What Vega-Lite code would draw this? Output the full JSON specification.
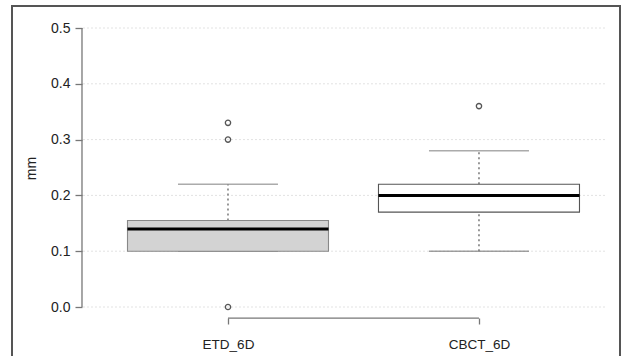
{
  "$schema": "https://vega.github.io/schema/vega-lite/v6.json",
  "width": 608,
  "height": 354,
  "autosize": "none",
  "padding": {"left": 12, "top": 6, "right": 5, "bottom": 0},
  "background": "white",
  "config": {
    "view": {"stroke": "#555555", "strokeWidth": 2},
    "font": "Liberation Sans"
  },
  "datasets": {
    "boxes": [
      {"group": "ETD_6D", "lower": 0.1, "q1": 0.1, "median": 0.14, "q3": 0.155, "upper": 0.22},
      {"group": "CBCT_6D", "lower": 0.1, "q1": 0.17, "median": 0.2, "q3": 0.22, "upper": 0.28}
    ],
    "outliers": [
      {"group": "ETD_6D", "value": 0.33},
      {"group": "ETD_6D", "value": 0.30},
      {"group": "ETD_6D", "value": 0.0},
      {"group": "CBCT_6D", "value": 0.36}
    ],
    "grid": [
      {"v": 0.0}, {"v": 0.1}, {"v": 0.2}, {"v": 0.3}, {"v": 0.4}, {"v": 0.5}
    ]
  },
  "layer": [
    {
      "data": {"name": "grid"},
      "mark": {"type": "rule", "color": "#e2e2e2", "strokeWidth": 1, "strokeDash": [2, 2], "xOffset": -145, "x2Offset": 127},
      "encoding": {
        "x": {
          "datum": "ETD_6D",
          "type": "nominal",
          "scale": {"type": "point", "domain": ["ETD_6D", "CBCT_6D"], "padding": 0.7112, "align": 0.605},
          "axis": {
            "orient": "bottom",
            "offset": -42,
            "domain": false,
            "grid": false,
            "ticks": true,
            "tickSize": 6,
            "tickColor": "#777777",
            "tickWidth": 1.3,
            "labelAngle": 0,
            "labelFontSize": 13.5,
            "labelColor": "#222222",
            "labelPadding": 13,
            "title": null
          }
        },
        "x2": {"datum": "CBCT_6D"},
        "y": {
          "field": "v",
          "type": "quantitative",
          "scale": {"domain": [-0.09498, 0.53943], "nice": false, "zero": false},
          "axis": {
            "orient": "left",
            "offset": -70,
            "values": [0, 0.1, 0.2, 0.3, 0.4, 0.5],
            "format": ".1f",
            "domain": false,
            "grid": false,
            "tickSize": 7,
            "tickColor": "#777777",
            "tickWidth": 1.3,
            "labelFontSize": 14,
            "labelColor": "#222222",
            "labelPadding": 5,
            "title": "mm",
            "titleFontSize": 14,
            "titleFontWeight": "normal",
            "titleColor": "#222222",
            "titleAngle": -90,
            "titleBaseline": "alphabetic",
            "titleAlign": "center",
            "titleX": -47,
            "titleY": 162
          }
        }
      }
    },
    {
      "data": {"name": "boxes"},
      "mark": {"type": "rule", "color": "#555555", "strokeWidth": 1.2, "strokeDash": [2, 3]},
      "encoding": {
        "x": {"field": "group", "type": "nominal", "title": null},
        "y": {"field": "q3", "type": "quantitative", "title": "mm"},
        "y2": {"field": "upper"}
      }
    },
    {
      "data": {"name": "boxes"},
      "mark": {"type": "rule", "color": "#555555", "strokeWidth": 1.2, "strokeDash": [2, 3]},
      "encoding": {
        "x": {"field": "group", "type": "nominal", "title": null},
        "y": {"field": "lower", "type": "quantitative", "title": "mm"},
        "y2": {"field": "q1"}
      }
    },
    {
      "data": {"name": "boxes"},
      "mark": {"type": "tick", "color": "#888888", "size": 100, "thickness": 1.6},
      "encoding": {
        "x": {"field": "group", "type": "nominal", "title": null},
        "y": {"field": "upper", "type": "quantitative", "title": "mm"}
      }
    },
    {
      "data": {"name": "boxes"},
      "mark": {"type": "tick", "color": "#777777", "size": 100, "thickness": 1.6},
      "encoding": {
        "x": {"field": "group", "type": "nominal", "title": null},
        "y": {"field": "lower", "type": "quantitative", "title": "mm"}
      }
    },
    {
      "data": {"name": "boxes"},
      "mark": {"type": "bar", "width": 201, "strokeWidth": 1.1, "opacity": 1},
      "encoding": {
        "x": {"field": "group", "type": "nominal", "title": null},
        "y": {"field": "q1", "type": "quantitative", "title": "mm"},
        "y2": {"field": "q3"},
        "fill": {
          "field": "group",
          "type": "nominal",
          "scale": {"domain": ["ETD_6D", "CBCT_6D"], "range": ["#d3d3d3", "#ffffff"]},
          "legend": null
        },
        "stroke": {
          "field": "group",
          "type": "nominal",
          "scale": {"domain": ["ETD_6D", "CBCT_6D"], "range": ["#888888", "#555555"]},
          "legend": null
        }
      }
    },
    {
      "data": {"name": "boxes"},
      "mark": {"type": "tick", "color": "#000000", "size": 201, "thickness": 3, "opacity": 1},
      "encoding": {
        "x": {"field": "group", "type": "nominal", "title": null},
        "y": {"field": "median", "type": "quantitative", "title": "mm"}
      }
    },
    {
      "data": {"name": "outliers"},
      "mark": {"type": "point", "shape": "circle", "filled": false, "size": 28, "color": "#555555", "strokeWidth": 1.3, "opacity": 1},
      "encoding": {
        "x": {"field": "group", "type": "nominal", "title": null},
        "y": {"field": "value", "type": "quantitative", "title": "mm"}
      }
    },
    {
      "data": {"name": "grid"},
      "transform": [{"filter": "datum.v === 0"}],
      "mark": {"type": "rule", "color": "#777777", "strokeWidth": 1.3, "xOffset": -146},
      "encoding": {
        "x": {"datum": "ETD_6D", "type": "nominal", "title": null},
        "y": {"datum": 0, "type": "quantitative", "title": "mm"},
        "y2": {"datum": 0.5}
      }
    },
    {
      "data": {"name": "grid"},
      "transform": [{"filter": "datum.v === 0"}],
      "mark": {"type": "rule", "color": "#777777", "strokeWidth": 1.3},
      "encoding": {
        "x": {"datum": "ETD_6D", "type": "nominal", "title": null},
        "x2": {"datum": "CBCT_6D"},
        "y": {"datum": -0.02, "type": "quantitative", "title": "mm"}
      }
    }
  ]
}
